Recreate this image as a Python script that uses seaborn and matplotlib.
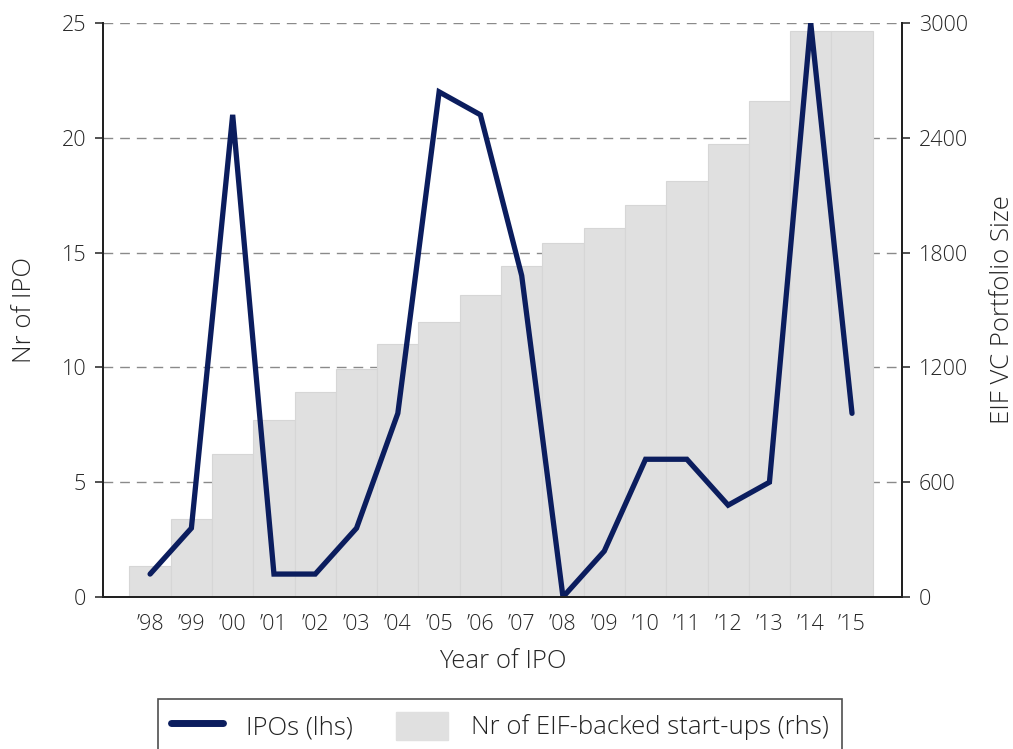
"""
plot.py

IPOs of EIF-backed start-ups (line, lhs) against the size of the
EIF VC portfolio (bars, rhs), 1998-2015.
"""

import matplotlib

matplotlib.use("Agg")

import matplotlib.pyplot as plt
import seaborn as sns
import pandas as pd
import numpy as np
from matplotlib.lines import Line2D
from matplotlib.patches import Patch

years = [1998, 1999, 2000, 2001, 2002, 2003, 2004, 2005, 2006,
         2007, 2008, 2009, 2010, 2011, 2012, 2013, 2014, 2015]
year_labels = ["\u201998", "\u201999", "\u201900", "\u201901", "\u201902", "\u201903",
               "\u201904", "\u201905", "\u201906", "\u201907", "\u201908", "\u201909",
               "\u201910", "\u201911", "\u201912", "\u201913", "\u201914", "\u201915"]
ipos = [1, 3, 21, 1, 1, 3, 8, 22, 21, 14, 0, 2, 6, 6, 4, 5, 25, 8]
portfolio = [160, 410, 750, 925, 1070, 1190, 1320, 1435, 1580,
             1730, 1850, 1930, 2050, 2175, 2365, 2590, 2960, 2960]

LINE_COLOR = "#0b1d5e"
BAR_COLOR = "#e0e0e0"
BAR_EDGE = "#d6d6d6"

df = pd.DataFrame({"year": years, "ipos": ipos, "portfolio": portfolio})

sns.set_style("white")
plt.rcParams["font.family"] = ["Open Sans", "DejaVu Sans"]
plt.rcParams["font.weight"] = "light"
plt.rcParams["axes.labelweight"] = "light"
plt.rcParams["text.color"] = "#222222"

fig = plt.figure(figsize=(10.13, 7.49), dpi=100)
ax = fig.add_axes([0.1017, 0.2029, 0.7887, 0.7664])  # bars, rhs
ax2 = ax.twinx()  # line, lhs

# bars for the portfolio size
sns.barplot(data=df, x="year", y="portfolio", native_scale=True, width=1.0,
            color=BAR_COLOR, edgecolor=BAR_EDGE, linewidth=0.8,
            saturation=1, ax=ax)

# line for the IPOs
sns.lineplot(data=df, x="year", y="ipos", color=LINE_COLOR, linewidth=3.8,
             ax=ax2)
for ln in ax2.lines:
    ln.set_solid_capstyle("round")
    ln.set_solid_joinstyle("miter")

# swap sides: bars on right axis, line on left axis
ax.yaxis.tick_right()
ax.yaxis.set_label_position("right")
ax2.yaxis.tick_left()
ax2.yaxis.set_label_position("left")

ax.set_ylim(0, 3000)
ax.set_yticks([0, 600, 1200, 1800, 2400, 3000])
ax2.set_ylim(0, 25)
ax2.set_yticks([0, 5, 10, 15, 20, 25])

ax.set_xlim(1996.86, 2016.21)
ax.set_xticks(years)
ax.set_xticklabels(year_labels)

# dashed grid behind the bars
ax.set_axisbelow(True)
ax.yaxis.grid(True, color="#8a8a8a", linestyle=(0, (7, 5)), linewidth=1.0)
ax.xaxis.grid(False)

ax.set_xlabel("Year of IPO", fontsize=18.5, labelpad=10)
ax.set_ylabel("EIF VC Portfolio Size", fontsize=18.5, labelpad=16)
ax2.set_ylabel("Nr of IPO", fontsize=18.5, labelpad=18)
ax2.set_xlabel("")

for a in (ax, ax2):
    a.tick_params(axis="both", direction="out", length=6, width=1.2,
                  color="#333333", labelsize=15.5, pad=6)
    a.spines["top"].set_visible(False)
    for side in ("left", "right", "bottom"):
        a.spines[side].set_visible(True)
        a.spines[side].set_color("#222222")
        a.spines[side].set_linewidth(1.4)
ax2.tick_params(axis="x", length=0)

handles = [Line2D([0], [0], color=LINE_COLOR, linewidth=5),
           Patch(facecolor=BAR_COLOR, edgecolor=BAR_COLOR)]
leg = fig.legend(handles, ["IPOs (lhs)", "Nr of EIF-backed start-ups (rhs)"],
                 loc="upper center", bbox_to_anchor=(0.4936, 0.0668), ncol=2,
                 borderaxespad=0, frameon=True, fancybox=False,
                 edgecolor="#222222", fontsize=18.5, handlelength=2.0,
                 handleheight=1.3, columnspacing=1.7, borderpad=0.5,
                 handletextpad=0.9)
leg.get_frame().set_linewidth(1.2)

fig.savefig("out.png", dpi=100)
